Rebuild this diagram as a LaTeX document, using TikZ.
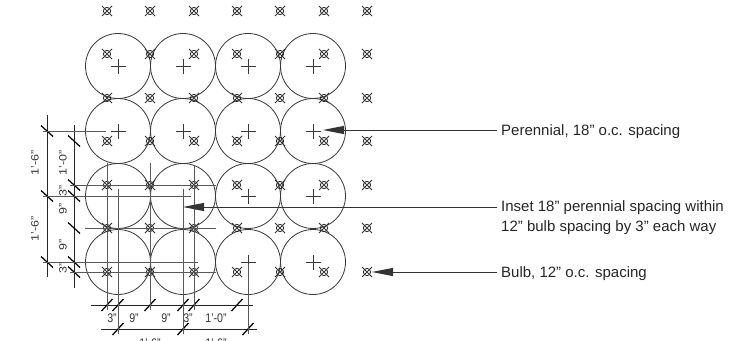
\documentclass[tikz,border=0pt]{standalone}
\usepackage{fontspec}
\setmainfont[Ligatures=ResetAll]{Liberation Sans}
\usetikzlibrary{arrows.meta}
\definecolor{ink}{gray}{0.22}
\tikzset{
  ln/.style={draw=ink,line width=0.8pt},
  thin ln/.style={draw=black!65,line width=0.9pt},
  dim line/.style={draw=black!85,line width=0.9pt},
  tickmark/.style={draw=black,line width=1.25pt},
  lab/.style={font=\fontsize{15}{19.8}\selectfont,text=black!85,anchor=west,inner sep=0pt,align=left},
  dim/.style={font=\fontsize{12.5}{14}\selectfont,text=black!80,inner sep=0pt,xscale=0.85},
  lead/.style={draw=black!80,line width=1pt,-{Triangle[length=21pt,width=8pt]}},
  bulbmark/.pic={
    \draw[draw=black!90,line width=0.8pt] (0,0) circle (3.6pt);
    \draw[draw=black!80,line width=0.75pt] (-5pt,-5pt) -- (5pt,5pt) (-5pt,5pt) -- (5pt,-5pt);
    \fill[black!70] (0,0) circle (0.8pt);
  }
}
\begin{document}
\begin{tikzpicture}[x=1pt,y=-1pt]
\useasboundingbox (0,0) rectangle (752,340);
\clip (0,0) rectangle (752,340);
% circles and crosses
\foreach \cx in {118,183,248,313}
  \foreach \cy in {66,131,196,262} {
    \draw[ln] (\cx,\cy) circle (32.5);
    \draw[ln] (\cx-7.5,\cy) -- (\cx+7.5,\cy) (\cx,\cy-7.5) -- (\cx,\cy+7.5);
  }
% bulbs
\foreach \bx in {107,150,194,237,280,324,367}
  \foreach \by in {11,54,98,141,185,228,272}
    \pic at (\bx,\by) {bulbmark};
% left dimensions
\draw[dim line] (47,115) -- (47,277);
\draw[dim line] (74,125) -- (74,288);
\foreach \ty in {131,196,262}
  \draw[tickmark] (41,\ty-5.5) -- (53,\ty+5.5);
\foreach \ty in {141,185,196,228,262,272}
  \draw[tickmark] (68,\ty-5.5) -- (80,\ty+5.5);
% horizontal extension lines
\draw[thin ln] (43,131) -- (106,131);
\draw[thin ln] (43,196) -- (190,196);
\draw[thin ln] (43,262) -- (198,262);
\draw[thin ln] (70,185) -- (216,185);
\draw[thin ln] (85,228) -- (216,228);
\draw[thin ln] (70,272) -- (216,272);
% bottom dimensions
\draw[dim line] (91,305) -- (253,305);
\draw[dim line] (101,329) -- (257,329);
\foreach \tx in {107,118,150,183,194,237}
  \draw[tickmark] (\tx-5.5,311) -- (\tx+5.5,299);
\foreach \tx in {118,183,248}
  \draw[tickmark] (\tx-5.5,335) -- (\tx+5.5,323);
% vertical extension lines
\draw[thin ln] (107,163) -- (107,310);
\draw[thin ln] (118,189) -- (118,334);
\draw[thin ln] (150,163) -- (150,310);
\draw[thin ln] (183,189) -- (183,334);
\draw[thin ln] (194,165) -- (194,310);
\draw[thin ln] (248,264) -- (248,334);
% dimension labels
\node[dim,rotate=90] (d1) at (35,163) {1'-6"};
\node[dim,rotate=90] (d2) at (35,229) {1'-6"};
\node[dim,rotate=90] (d3) at (63,163) {1'-0"};
\node[dim,rotate=90] (d4) at (63,191) {3"};
\node[dim,rotate=90] (d5) at (63,209) {9"};
\node[dim,rotate=90] (d6) at (63,245) {9"};
\node[dim,rotate=90] (d7) at (63,268) {3"};
\node[dim] (d8) at (112,318) {3"};
\node[dim] (d9) at (134,318) {9"};
\node[dim] (d10) at (166,318) {9"};
\node[dim] (d11) at (188,318) {3"};
\node[dim] (d12) at (216,318) {1'-0"};
\node[dim] (d13) at (150,343) {1'-6"};
\node[dim] (d14) at (216,343) {1'-6"};
% labels
\node[lab] (perennial) at (501,132) {Perennial, 18" o.c. spacing};
\node[lab] (inset) at (501,217.5) {Inset 18" perennial spacing within\\12" bulb spacing by 3" each way};
\node[lab] (bulb) at (501,273.5) {Bulb, 12" o.c. spacing};
\coordinate (pTip) at (323,130);
\coordinate (iTip) at (183,207);
\coordinate (bTip) at (372,272);
\coordinate (pStart) at (497,130);
\coordinate (iStart) at (497,207);
\coordinate (bStart) at (497,272);
\draw[lead] (pStart) -- (pTip);
\draw[lead] (iStart) -- (iTip);
\draw[lead] (bStart) -- (bTip);
\end{tikzpicture}
\end{document}
